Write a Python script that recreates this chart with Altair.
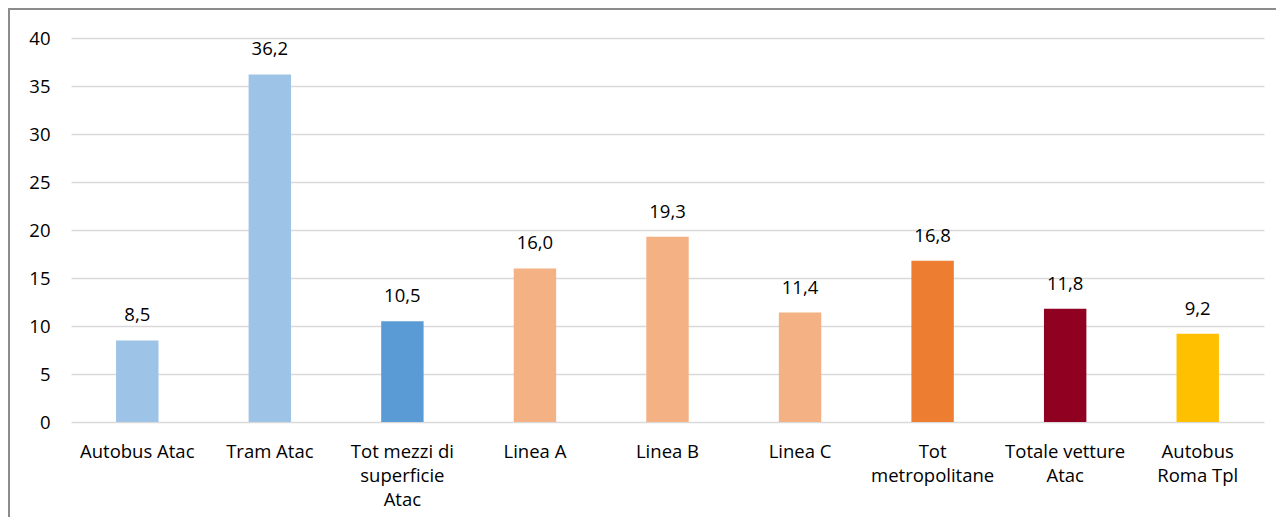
import json
import altair as alt
import pandas as pd

categories = ["Autobus Atac", "Tram Atac", "Tot mezzi di superficie Atac", "Linea A",
              "Linea B", "Linea C", "Tot metropolitane", "Totale vetture Atac",
              "Autobus Roma Tpl"]
label_lines = [["Autobus Atac"], ["Tram Atac"], ["Tot mezzi di", "superficie", "Atac"],
               ["Linea A"], ["Linea B"], ["Linea C"], ["Tot", "metropolitane"],
               ["Totale vetture", "Atac"], ["Autobus", "Roma Tpl"]]
values = [8.5, 36.2, 10.5, 16.0, 19.3, 11.4, 16.8, 11.8, 9.2]
colors = ["#9DC3E6", "#9DC3E6", "#5B9BD5", "#F4B183", "#F4B183", "#F4B183",
          "#ED7D31", "#8F0021", "#FFC000"]
y_ticks = [0, 5, 10, 15, 20, 25, 30, 35, 40]

FONT = "Open Sans"
FS = 18.5
df = pd.DataFrame({"cat": categories, "val": values, "col": colors})
label_map = json.dumps(dict(zip(categories, label_lines)))

W, H = 1193, 384
x = alt.X("cat:N", sort=categories,
          scale=alt.Scale(paddingInner=0.68, paddingOuter=0.34),
          axis=alt.Axis(title=None, labelAngle=0, ticks=False, domain=False, grid=False,
                        labelFont=FONT, labelFontSize=FS, labelColor="#000000",
                        labelPadding=20, labelLineHeight=24, labelBaseline="top",
                        labelExpr=f"{label_map}[datum.value]"))
y = alt.Y("val:Q", scale=alt.Scale(domain=[0, 40]),
          axis=alt.Axis(title=None, values=y_ticks, ticks=False, domain=False,
                        grid=True, gridColor="#D9D9D9", gridWidth=1.3,
                        labelFont=FONT, labelFontSize=FS, labelColor="#000000",
                        labelPadding=21))

base = alt.Chart(df)
bars = base.mark_bar().encode(x=x, y=y, color=alt.Color("col:N", scale=None))
texts = base.transform_calculate(
    lbl="replace(format(datum.val, '.1f'), '.', ',')"
).mark_text(baseline="alphabetic", dy=-19, font=FONT, fontSize=FS, color="#000000").encode(
    x=alt.X("cat:N", sort=categories), y="val:Q", text="lbl:N")

frame = alt.Chart(pd.DataFrame({"k": [0]})).mark_rect(
    fill="transparent", stroke="#8C8C8C", strokeWidth=2
).encode(x=alt.value(-62), x2=alt.value(W + 100), y=alt.value(-29), y2=alt.value(H + 140))

chart = alt.layer(bars, texts, frame).properties(
    width=W, height=H,
    padding={"left": 63, "top": 30, "right": 12, "bottom": 95},
    autosize=alt.AutoSizeParams(type="none"),
    background="white",
).configure_view(stroke="transparent", strokeWidth=0)

chart.save("out.html", embed_options={"renderer": "svg", "actions": False})
